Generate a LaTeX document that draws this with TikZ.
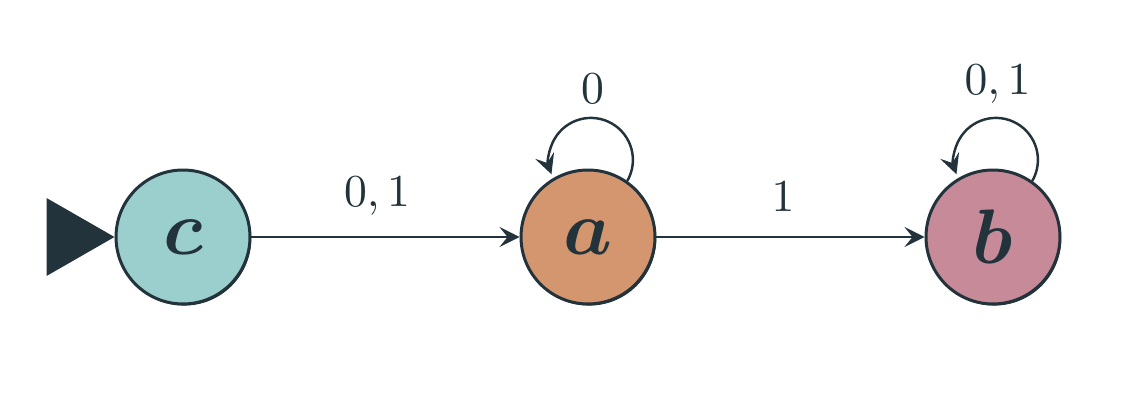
\RequirePackage{fix-cm}
\documentclass[tikz,border=0pt]{standalone}
\usepackage{amsmath}
\usepackage{bm}
\usepackage{graphicx}
\usetikzlibrary{arrows.meta,shadows}
\definecolor{slate}{HTML}{22333B}
\definecolor{seafoam}{HTML}{9BCFCD}
\definecolor{clay}{HTML}{D4966E}
\definecolor{rosewood}{HTML}{C68A99}
\newcommand{\symlabel}[1]{\scalebox{2.6}{$#1$}}

\begin{document}
\begin{tikzpicture}[x=0.02cm,y=0.02cm,
      state/.style={circle,draw=slate,line width=1.7pt,minimum size=2.68cm,inner sep=0pt,
        text=slate,font=\fontsize{44}{50}\selectfont,
        drop shadow={shadow xshift=0.7pt,shadow yshift=-0.9pt,fill=slate,opacity=1}},
      trans/.style={draw=slate,line width=1.4pt,-{Stealth[length=0.4cm,width=0.4cm,inset=0.16cm]}},
      lbl/.style={text=slate,inner sep=0pt,anchor=base}]
    % canvas of the reference, 1147 x 412
    \useasboundingbox (0,0) rectangle (1147,412);

    % states
    \node[state,fill=seafoam]  (c) at (183,175) {$\bm{c}$};
    \node[state,fill=clay]     (a) at (588,175) {$\bm{a}$};
    \node[state,fill=rosewood] (b) at (993,175) {$\bm{b}$};

    % initial marker
    \fill[slate] (c.west) -- ++(-68,39) -- ++(0,-78) -- cycle;

    % transitions
    \draw[trans] (c) -- node[lbl,xshift=-0.17cm,yshift=0.6cm] {\symlabel{0,1}} (a);
    \draw[trans] (a) -- node[lbl,xshift=-0.15cm,yshift=0.5cm] {\symlabel{1}} (b);

    % self loops, drawn as circle arcs
    \draw[trans] (a.55) arc[start angle=-30,end angle=200,radius=0.84cm];
    \draw[trans] (b.55) arc[start angle=-30,end angle=200,radius=0.84cm];
    \node[lbl] (la) at ([xshift=0.09cm,yshift=2.68cm]a.center) {\symlabel{0}};
    \node[lbl] (lb) at ([xshift=0.09cm,yshift=2.86cm]b.center) {\symlabel{0,1}};
  \end{tikzpicture}
\end{document}
